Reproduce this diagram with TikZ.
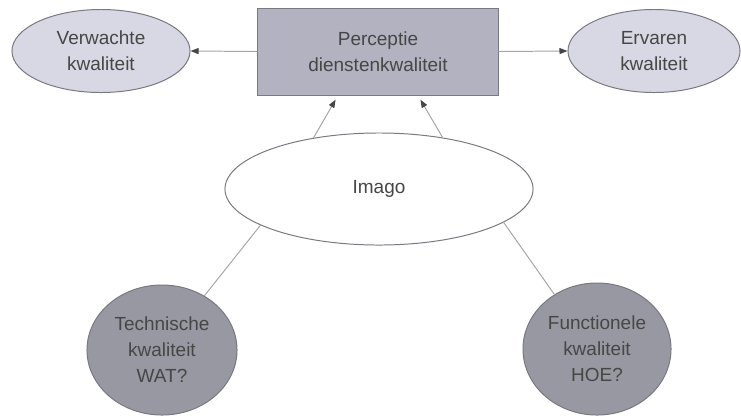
\documentclass[tikz,border=0pt]{standalone}
\usepackage{fontspec}
\setmainfont{Liberation Sans}
\usetikzlibrary{shapes.geometric,arrows.meta}
\definecolor{lichtpaars}{RGB}{216,216,228}
\definecolor{grijsblauw}{RGB}{178,178,192}
\definecolor{donkergrijs}{RGB}{152,152,162}
\definecolor{rand}{RGB}{120,120,128}
\definecolor{lijn}{RGB}{165,165,165}
\definecolor{tekst}{RGB}{70,70,70}
\tikzset{
  kwal/.style={ellipse,draw=rand,fill=lichtpaars,line width=0.7pt,inner sep=0pt,
    align=center,text=tekst,font=\fontsize{13.5}{18.5}\selectfont},
  pijl/.style={draw=lijn,line width=0.7pt,-{Triangle[length=0.2cm,width=0.15cm,color=tekst,fill=tekst]}},
  verbinding/.style={draw=lijn,line width=0.7pt}
}
\begin{document}
\begin{tikzpicture}[x=0.025cm,y=-0.025cm]
        \useasboundingbox (0,0) rectangle (741,417);
        \node[kwal,minimum width=4.45cm,minimum height=2.075cm] (verwacht) at (101,51) {Verwachte\\kwaliteit};
        \node[kwal,rectangle,fill=grijsblauw,minimum width=6cm,minimum height=2.175cm] (percept) at (378,51.5) {Perceptie\\dienstenkwaliteit};
        \node[kwal,minimum width=4.3cm,minimum height=2.075cm] (ervaren) at (654,51) {Ervaren\\kwaliteit};
        \node[kwal,fill=white,minimum width=7.7cm,minimum height=2.8cm] (imago) at (379,189) {Imago};
        \node[kwal,fill=donkergrijs,minimum width=3.75cm,minimum height=3.25cm] (techn) at (162,350) {Technische\\kwaliteit\\WAT?};
        \node[kwal,fill=donkergrijs,minimum width=3.7cm,minimum height=3.3cm] (funct) at (597,349) {Functionele\\kwaliteit\\HOE?};
        \draw[pijl] (percept.west)--(verwacht.east);
        \draw[pijl] (percept.east)--(ervaren.west);
        \draw[pijl,shorten >=0.12cm] (imago.142)--([xshift=-1cm]percept.south);
        \draw[pijl,shorten >=0.12cm] (imago.39)--([xshift=1cm]percept.south);
        \draw[verbinding] (imago.197)--(techn.52);
        \draw[verbinding] (imago.345)--(funct.128);
    \end{tikzpicture}
\end{document}
